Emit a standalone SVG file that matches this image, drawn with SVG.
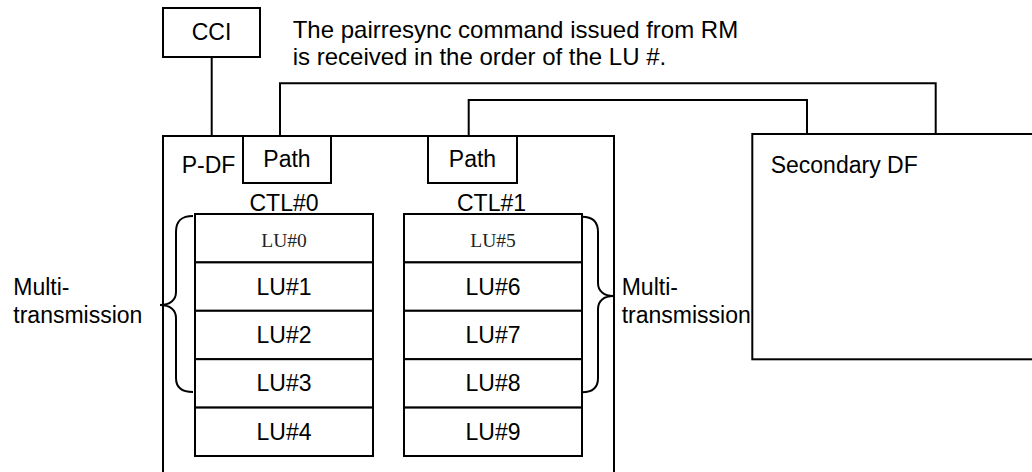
<svg xmlns="http://www.w3.org/2000/svg" width="1032" height="472" viewBox="0 0 1032 472">
<style>
  .box { fill: #ffffff; stroke: #000000; stroke-width: 2; }
  .ln { fill: none; stroke: #000000; stroke-width: 2; }
  .t { font-family: "Liberation Sans", Arial, sans-serif; font-size: 23px; fill: #000000; }
  .c { text-anchor: middle; }
  .s { font-family: "Liberation Serif", "Times New Roman", serif; font-size: 19.5px; fill: #222222; text-anchor: middle; }
</style>
<rect x="0" y="0" width="1032" height="472" fill="#ffffff"/>

<g id="connectors">
  <path class="ln" d="M211.7,57 V136"/>
  <path class="ln" d="M280,136 V83.3 H935.7 V134"/>
  <path class="ln" d="M468.7,136 V100 H807 V134"/>
</g>

<g id="cci">
  <rect class="box" x="163" y="8" width="97" height="49"/>
  <text class="t c" x="211.5" y="40">CCI</text>
</g>

<g id="note">
  <text class="t" x="292.7" y="38.3" style="font-size:24px">The pairresync command issued from RM</text>
  <text class="t" x="292.7" y="65" style="font-size:24px">is received in the order of the LU #.</text>
</g>

<g id="pdf">
  <rect class="box" x="163" y="136" width="451" height="345"/>
  <text class="t" x="181.7" y="173">P-DF</text>
</g>

<g id="path0">
  <rect class="box" x="243" y="136" width="88" height="47"/>
  <text class="t c" x="287" y="167">Path</text>
</g>

<g id="path1">
  <rect class="box" x="428" y="136" width="89" height="47"/>
  <text class="t c" x="472.5" y="167">Path</text>
</g>

<g id="secondary-df">
  <rect class="box" x="752.3" y="134" width="300" height="225.3"/>
  <text class="t" x="770.7" y="173">Secondary DF</text>
</g>

<g id="ctl0">
  <text class="t c" x="284" y="211">CTL#0</text>
  <rect class="box" x="195" y="214" width="178" height="48.4"/>
  <text class="s" x="284" y="247">LU#0</text>
  <rect class="box" x="195" y="262.4" width="178" height="48.4"/>
  <text class="t c" x="284" y="294.6">LU#1</text>
  <rect class="box" x="195" y="310.8" width="178" height="48.4"/>
  <text class="t c" x="284" y="343">LU#2</text>
  <rect class="box" x="195" y="359.2" width="178" height="48.4"/>
  <text class="t c" x="284" y="391.4">LU#3</text>
  <rect class="box" x="195" y="407.6" width="178" height="48.4"/>
  <text class="t c" x="284" y="439.8">LU#4</text>
</g>

<g id="ctl1">
  <text class="t c" x="491.5" y="211">CTL#1</text>
  <rect class="box" x="404" y="214" width="178" height="48.4"/>
  <text class="s" x="493" y="247">LU#5</text>
  <rect class="box" x="404" y="262.4" width="178" height="48.4"/>
  <text class="t c" x="493" y="294.6">LU#6</text>
  <rect class="box" x="404" y="310.8" width="178" height="48.4"/>
  <text class="t c" x="493" y="343">LU#7</text>
  <rect class="box" x="404" y="359.2" width="178" height="48.4"/>
  <text class="t c" x="493" y="391.4">LU#8</text>
  <rect class="box" x="404" y="407.6" width="178" height="48.4"/>
  <text class="t c" x="493" y="439.8">LU#9</text>
</g>

<g id="brace-left">
  <path class="ln" d="M193,216 C182,216 176,220 176,232 V292 C176,300 170,305 160,305 C170,305 176,310 176,318 V378 C176,388 182,392 193,392"/>
  <text class="t" x="13.3" y="295">Multi-</text>
  <text class="t" x="13.3" y="323">transmission</text>
</g>

<g id="brace-right">
  <path class="ln" d="M582,216.7 C592,216.7 598,221 598,232 V283 C598,291 604,296 613.3,296 C604,296 598,301 598,309 V378 C598,388 592,392.3 582,392.3"/>
  <text class="t" x="621.7" y="295">Multi-</text>
  <text class="t" x="621.7" y="323">transmission</text>
</g>
</svg>
